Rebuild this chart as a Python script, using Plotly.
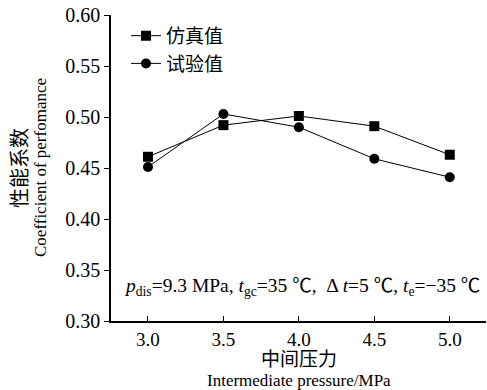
import plotly.graph_objects as go

pressure = [3.0, 3.5, 4.0, 4.5, 5.0]
sim_cop = [0.461, 0.492, 0.501, 0.491, 0.463]
exp_cop = [0.451, 0.503, 0.490, 0.459, 0.441]
sim_name = "仿真值"
exp_name = "试验值"
x_ticks = ["3.0", "3.5", "4.0", "4.5", "5.0"]
y_tickvals = [0.30, 0.35, 0.40, 0.45, 0.50, 0.55, 0.60]
y_ticks = ["0.30", "0.35", "0.40", "0.45", "0.50", "0.55", "0.60"]

FONT = "Liberation Serif, Noto Sans CJK SC, serif"

fig = go.Figure()
fig.add_trace(go.Scatter(x=pressure, y=sim_cop, name=sim_name, mode="lines+markers",
                         line=dict(color="black", width=1),
                         marker=dict(symbol="square", size=10, color="black")))
fig.add_trace(go.Scatter(x=pressure, y=exp_cop, name=exp_name, mode="lines+markers",
                         line=dict(color="black", width=1),
                         marker=dict(symbol="circle", size=10, color="black")))

fig.add_annotation(x=2.826, y=0.333, xref="x", yref="y", xanchor="left", yanchor="middle",
                   text="<i>p</i><sub>dis</sub>=9.3 MPa, <i>t</i><sub>gc</sub>=35 ℃,  Δ <i>t</i>=5 ℃, <i>t</i><sub>e</sub>=−35 ℃",
                   showarrow=False, font=dict(family=FONT, size=19.5, color="black"))

# axis titles
fig.add_annotation(x=0, y=0.5, xref="paper", yref="paper", xanchor="center", yanchor="middle",
                   xshift=-91, textangle=-90, text="性能系数", showarrow=False,
                   font=dict(family=FONT, size=20, color="black"))
fig.add_annotation(x=0, y=0.5, xref="paper", yref="paper", xanchor="center", yanchor="middle",
                   xshift=-71, textangle=-90, text="Coefficient of perfomance", showarrow=False,
                   font=dict(family=FONT, size=17, color="black"))
fig.add_annotation(x=4.0, y=0, xref="x", yref="paper", xanchor="center", yanchor="middle",
                   yshift=-38, text="中间压力", showarrow=False,
                   font=dict(family=FONT, size=19, color="black"))
fig.add_annotation(x=4.0, y=0, xref="x", yref="paper", xanchor="center", yanchor="middle",
                   yshift=-59, text="Intermediate pressure/MPa", showarrow=False,
                   font=dict(family=FONT, size=17, color="black"))

fig.update_layout(
    width=487, height=390,
    margin=dict(l=111, r=1, t=15, b=69),
    paper_bgcolor="white", plot_bgcolor="white",
    font=dict(family=FONT, size=19, color="black"),
    showlegend=True,
    legend=dict(x=0.040, y=0.994, xanchor="left", yanchor="top", bgcolor="rgba(0,0,0,0)",
                font=dict(family=FONT, size=19), itemwidth=30, tracegroupgap=0),
    xaxis=dict(range=[2.755, 5.24], tickvals=pressure, ticktext=x_ticks,
               ticks="inside", ticklen=5, tickcolor="black", showline=True, linecolor="black",
               linewidth=1.5, showgrid=False, zeroline=False, mirror=False,
               tickfont=dict(family=FONT, size=19)),
    yaxis=dict(range=[0.30, 0.60], tickvals=y_tickvals, ticktext=y_ticks,
               ticks="outside", ticklen=5, tickcolor="black", showline=True, linecolor="black",
               linewidth=1.5, showgrid=False, zeroline=False,
               tickfont=dict(family=FONT, size=20)),
)

fig.write_html("out.html", config={"displayModeBar": False},
               post_script="document.body.style.margin='0';document.body.style.padding='0';document.body.style.overflow='hidden';")
